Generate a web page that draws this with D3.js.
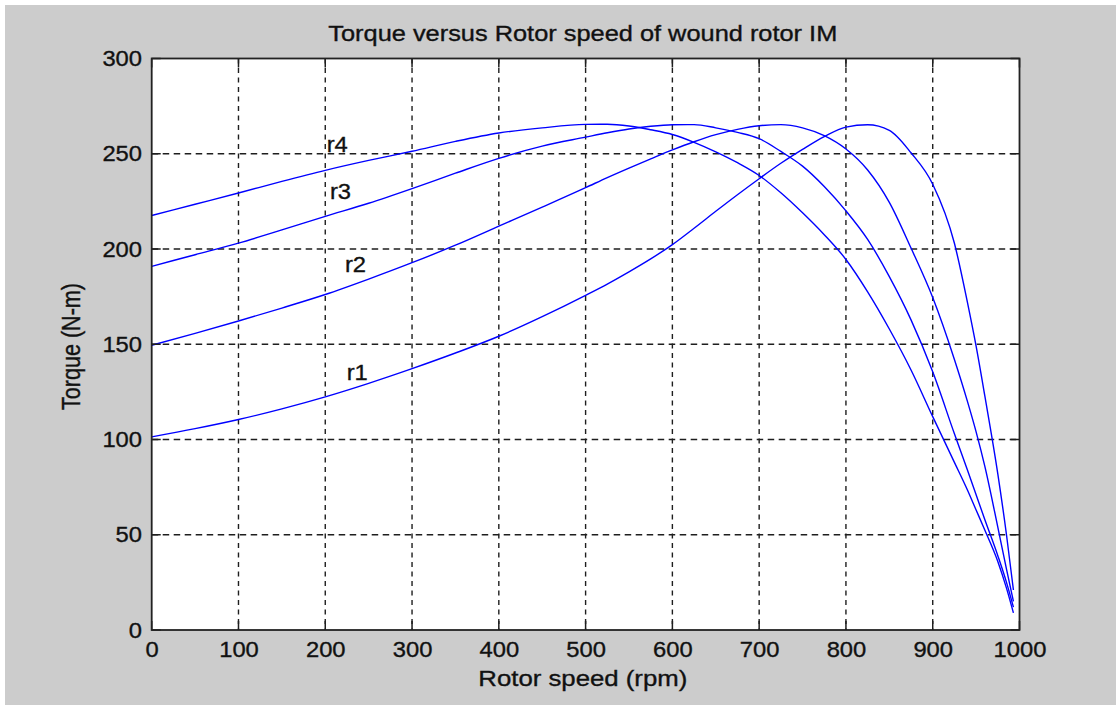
<!DOCTYPE html>
<html><head><meta charset="utf-8">
<script src="https://cdn.jsdelivr.net/npm/d3@7"></script>
<style>body{margin:0;background:#fff}svg{display:block}</style>
</head><body><svg id="c" width="1116" height="705"></svg>
<script>
// ---- data ----
const speeds = [0,50,100,150,200,250,300,350,400,450,500,525,550,575,600,625,650,675,700,725,750,775,800,825,850,875,900,925,940,950,960,975,985,993];
const r1 = [101.4,105.7,110.5,116.1,122.4,129.5,137.2,145.4,154.2,164.5,175.7,181.6,188,194.8,202.3,210.9,219.8,228.5,236.9,245,252.3,259,264,265.2,262.3,250.5,234,203,172,149,123,82,50,21];
const r2 = [149.5,155.7,162.2,169,176.1,184.2,192.8,202,212,222,232.2,237.5,242.5,247.3,252,256.3,260,262.8,264.7,265.3,263.6,259.5,252.5,241.5,224.5,200.5,174.5,142,120,104,86,54,32,15];
const r3 = [190.9,197,203.1,210,217.1,224,231.7,239.8,247.6,254,258.7,261,263,264.4,265.2,265.3,263.6,261.2,257.9,251.2,243.5,232.8,220,205,185.5,162.8,135.5,103,84,71,58,39,25,12];
const r4 = [217.6,223.5,229.4,235.5,241.3,246.5,251.3,256.5,260.9,263.6,265.4,265.5,264.6,262.6,260.1,256,251,245.3,238.6,229.5,219,207.5,194.5,177.5,158,136.5,112,88,73.5,63,52.5,36,22,9];
const seriesNames = ["r1","r2","r3","r4"];
const labelSpeed = [224.7,222.7,205.4,201.6];
const labelTorque = [131.1,187.8,226.0,250.7];
const xTicks = [0,100,200,300,400,500,600,700,800,900,1000];
const yTicks = [0,50,100,150,200,250,300];
const titleText = "Torque versus Rotor speed of wound rotor IM";
const xLabelText = "Rotor speed (rpm)";
const yLabelText = "Torque (N-m)";

// ---- drawing ----
const series = [r1,r2,r3,r4];
const svg = d3.select("#c");
const FONT = "Arial, 'Liberation Sans', Helvetica, sans-serif";
svg.append("rect").attr("x",5).attr("y",5).attr("width",1111).attr("height",700).attr("fill","#cccccc");

const L=151.7, R=1019.5, T=58.5, B=630;
const x = d3.scaleLinear().domain([0,1000]).range([L,R]);
const y = d3.scaleLinear().domain([0,300]).range([B,T]);

svg.append("rect").attr("x",L).attr("y",T).attr("width",R-L).attr("height",B-T).attr("fill","#fff");

// grid
const grid = svg.append("g").attr("stroke","#1e1e1e").attr("stroke-width",1.4);
grid.selectAll("line.gx").data(xTicks.slice(1,-1)).join("line").attr("class","gx")
  .attr("x1",d=>x(d)).attr("x2",d=>x(d)).attr("y1",T).attr("y2",B).attr("stroke-dasharray","5,4.5");
grid.selectAll("line.gy").data(yTicks.slice(1,-1)).join("line").attr("class","gy")
  .attr("x1",L).attr("x2",R).attr("y1",d=>y(d)).attr("y2",d=>y(d)).attr("stroke-dasharray","6.5,4.5");

// curves
const line = d3.line().x((d,i)=>x(speeds[i])).y(d=>y(d)).curve(d3.curveMonotoneX);
svg.append("g").selectAll("path").data(series).join("path")
  .attr("d",line).attr("fill","none").attr("stroke","#0000ff").attr("stroke-width",1.4);

// inward ticks on all sides
const tk = svg.append("g").attr("stroke","#1e1e1e").attr("stroke-width",1.5);
const TL = 9;
xTicks.forEach(d=>{
  tk.append("line").attr("x1",x(d)).attr("x2",x(d)).attr("y1",B).attr("y2",B-TL);
  tk.append("line").attr("x1",x(d)).attr("x2",x(d)).attr("y1",T).attr("y2",T+TL);
});
yTicks.forEach(d=>{
  tk.append("line").attr("x1",L).attr("x2",L+TL).attr("y1",y(d)).attr("y2",y(d));
  tk.append("line").attr("x1",R).attr("x2",R-TL).attr("y1",y(d)).attr("y2",y(d));
});
// box
svg.append("rect").attr("x",L).attr("y",T).attr("width",R-L).attr("height",B-T)
  .attr("fill","none").attr("stroke","#222").attr("stroke-width",1.8);

function textStyle(sel){
  sel.attr("font-size",22).attr("font-family",FONT).attr("fill","#111")
     .attr("stroke","#111").attr("stroke-width",0.35);
}

// axes labels via d3 axes
const ax = svg.append("g").attr("transform",`translate(0,${B})`)
  .call(d3.axisBottom(x).tickValues(xTicks).tickFormat(d3.format("d")).tickSize(0).tickPadding(11));
ax.select(".domain").remove();
ax.selectAll("text").call(textStyle).attr("transform","scale(1.08,1)");
const ay = svg.append("g").attr("transform",`translate(${L},0)`)
  .call(d3.axisLeft(y).tickValues(yTicks).tickFormat(d3.format("d")).tickSize(0).tickPadding(9));
ay.select(".domain").remove();
ay.selectAll("text").call(textStyle).attr("transform","scale(1.08,1)");

// series labels
svg.append("g").selectAll("text").data(seriesNames).join("text")
  .attr("transform",(d,i)=>`translate(${x(labelSpeed[i])},${y(labelTorque[i])}) scale(1.08,1)`)
  .call(textStyle).text(d=>d);

// title
svg.append("text").attr("x",328.3).attr("y",40.5).call(textStyle)
  .attr("textLength",509).attr("lengthAdjust","spacingAndGlyphs").text(titleText);
// x label
svg.append("text").attr("x",478.3).attr("y",686).call(textStyle)
  .attr("textLength",209).attr("lengthAdjust","spacingAndGlyphs").text(xLabelText);
// y label
svg.append("text").attr("transform","translate(80,346.5) scale(1.2,1) rotate(-90)")
  .attr("text-anchor","middle").call(textStyle)
  .attr("textLength",127).attr("lengthAdjust","spacingAndGlyphs").text(yLabelText);
</script></body></html>
